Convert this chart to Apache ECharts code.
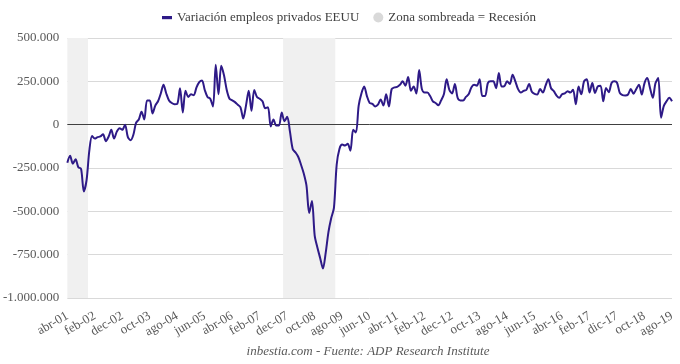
<!DOCTYPE html>
<html>
<head>
<meta charset="utf-8">
<script src="https://cdn.jsdelivr.net/npm/echarts@6/dist/echarts.min.js"></script>
<style>html,body{margin:0;padding:0;background:#fff}#c{width:680px;height:364px}</style>
</head>
<body>
<div id="c"></div>
<script>
// Monthly change in US private employment (ADP), abr-01 .. ago-19 (221 months)
var values = [
 -220000,-180000,-225000,-200000,-245000,-255000,-385000,-320000,-150000,-65000,
 -80000,-72000,-68000,-55000,-95000,-70000,-30000,-80000,-40000,-20000,
 -30000,0,-70000,-90000,-60000,10000,30000,75000,30000,140000,
 140000,65000,110000,135000,180000,230000,180000,140000,125000,118000,
 120000,210000,70000,195000,160000,175000,170000,215000,245000,255000,
 200000,160000,150000,105000,345000,175000,340000,285000,200000,150000,
 140000,130000,115000,100000,35000,110000,195000,80000,200000,160000,
 150000,135000,95000,100000,-10000,30000,-5000,-5000,70000,20000,
 45000,-40000,-140000,-160000,-185000,-230000,-280000,-350000,-510000,-440000,
 -640000,-710000,-770000,-830000,-740000,-620000,-540000,-480000,-230000,-140000,
 -115000,-120000,-110000,-150000,-30000,-45000,110000,180000,220000,165000,
 125000,120000,105000,115000,145000,110000,175000,105000,205000,215000,
 218000,230000,250000,225000,275000,195000,220000,180000,315000,205000,
 185000,185000,165000,135000,125000,112000,140000,175000,262000,200000,
 180000,235000,155000,140000,140000,160000,175000,215000,230000,225000,
 262000,165000,165000,240000,250000,250000,210000,298000,220000,222000,
 250000,235000,288000,250000,205000,185000,195000,200000,235000,190000,
 178000,174000,206000,185000,225000,262000,210000,193000,168000,155000,
 175000,180000,193000,185000,202000,118000,220000,175000,250000,262000,
 185000,240000,183000,221000,225000,135000,212000,187000,240000,250000,
 242000,183000,170000,168000,174000,206000,179000,206000,231000,174000,
 240000,269000,212000,155000,240000,269000,40000,107000,135000,155000,
 135000
];
// x-axis tick labels, one every 10 months
var tickLabels = ['abr-01','feb-02','dec-02','oct-03','ago-04','jun-05','abr-06','feb-07','dec-07','oct-08','ago-09','jun-10','abr-11','feb-12','dec-12','oct-13','ago-14','jun-15','abr-16','feb-17','dic-17','oct-18','ago-19'];
// recession periods as [first month index, last month index]
var recessions = [[0, 7], [79, 97]];
var seriesName = 'Variación empleos privados EEUU';
var recessionName = 'Zona sombreada = Recesión';
var source = 'inbestia.com - Fuente: ADP Research Institute';

var data = values.map(function (v, i) { return [i, v]; });
var bands = recessions.map(function (r) {
  return [{ xAxis: Math.max(0, r[0] - 0.5) }, { xAxis: r[1] + 0.5 }];
});
function fmt(v) {
  var s = Math.abs(v).toString().replace(/\B(?=(\d{3})+(?!\d))/g, '.');
  return (v < 0 ? '-' : '') + s;
}
var font = '"Liberation Serif", "Times New Roman", serif';
var chart = echarts.init(document.getElementById('c'), null, { renderer: 'canvas' });
chart.setOption({
  animation: false,
  backgroundColor: '#ffffff',
  textStyle: { fontFamily: font },
  legend: {
    top: 6, left: 157, itemGap: 14, itemWidth: 10, itemHeight: 10,
    textStyle: { fontFamily: font, fontSize: 13, color: '#404040' },
    data: [
      { name: seriesName, icon: 'path://M0,0M0,3.5h10v3.2h-10zM10,10', itemStyle: { color: '#2e1a87' } },
      { name: recessionName, icon: 'circle', itemStyle: { color: '#d9d9d9' } }
    ]
  },
  grid: { left: 65, right: 8, top: 38, bottom: 66, containLabel: false },
  xAxis: {
    type: 'value', min: 0, max: values.length - 1, interval: 10,
    axisLine: { show: false },
    axisTick: { show: false },
    splitLine: { show: false },
    axisLabel: {
      rotate: 30, margin: 17, color: '#595959', fontFamily: font, fontSize: 13,
      formatter: function (v) { return tickLabels[Math.round(v / 10)] || ''; }
    }
  },
  yAxis: {
    type: 'value', min: -1000000, max: 500000, interval: 250000,
    axisLine: { show: false }, axisTick: { show: false },
    splitLine: { lineStyle: { color: '#d9d9d9', width: 1 } },
    axisLabel: { color: '#595959', fontFamily: font, fontSize: 13, margin: 8, formatter: fmt }
  },
  series: [
    {
      name: recessionName, type: 'line', data: [], silent: true,
      itemStyle: { color: '#d9d9d9' },
      markArea: { silent: true, itemStyle: { color: '#f0f0f0' }, data: bands }
    },
    {
      name: seriesName, type: 'line', data: data, smooth: 0.3, showSymbol: false,
      lineStyle: { color: '#2e1a87', width: 2 }, itemStyle: { color: '#2e1a87' }, z: 5,
      markLine: {
        silent: true, symbol: 'none', label: { show: false },
        lineStyle: { color: '#404040', width: 1, type: 'solid' },
        data: [{ yAxis: 0 }]
      }
    }
  ],
  graphic: [{
    type: 'text', x: 368, y: 352,
    style: { text: source, textAlign: 'center', textVerticalAlign: 'middle',
      font: 'italic 13px ' + font, fill: '#595959' }
  }]
});
</script>
</body>
</html>
